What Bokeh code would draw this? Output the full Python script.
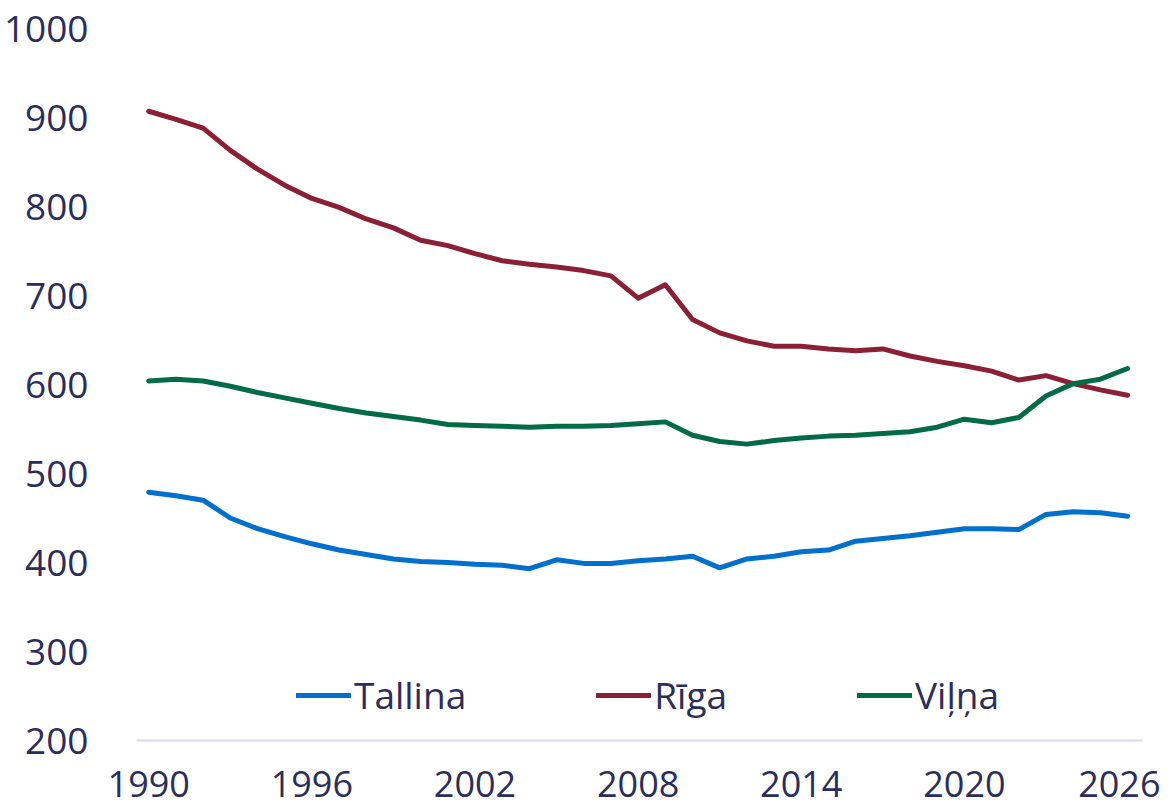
from bokeh.plotting import figure
from bokeh.models import ColumnDataSource, Legend, LegendItem, FixedTicker, Range1d
from bokeh.embed import file_html
from bokeh.resources import INLINE

years = list(range(1990, 2027))
tallina = [479, 475, 470, 450, 438, 429, 421, 414, 409, 404, 401, 400, 398, 397, 393, 403, 399, 399,
           402, 404, 407, 394, 404, 407, 412, 414, 424, 427, 430, 434, 438, 438, 437, 454, 457, 456, 452]
riga = [907, 898, 888, 863, 842, 824, 809, 799, 786, 776, 762, 756, 747, 739, 735, 732, 728, 722,
        697, 712, 673, 658, 649, 643, 643, 640, 638, 640, 632, 626, 621, 615, 605, 610, 601, 594, 588]
vilna = [604, 606, 604, 598, 591, 585, 579, 573, 568, 564, 560, 555, 554, 553, 552, 553, 553, 554,
         556, 558, 543, 536, 533, 537, 540, 542, 543, 545, 547, 552, 561, 557, 563, 587, 601, 606, 618]
series_names = ["Tallina", "Rīga", "Viļņa"]
colors = ["#0070CC", "#8B2035", "#006B45"]
x_ticks = [1990, 1996, 2002, 2008, 2014, 2020, 2026]
y_ticks = [200, 300, 400, 500, 600, 700, 800, 900, 1000]

TEXT = "#2B2D5C"
FONT = "Open Sans"

p = figure(width=1160, height=811, output_backend="svg", toolbar_location=None,
           x_range=Range1d(1989.55, 2026.55), y_range=Range1d(200, 1000),
           min_border_left=130, min_border_right=18, min_border_top=28, min_border_bottom=71)
p.outline_line_color = None
p.grid.grid_line_color = None

src = ColumnDataSource(dict(year=years, t=tallina, r=riga, v=vilna))
renderers = []
for col, c in zip(["t", "r", "v"], colors):
    renderers.append(p.line("year", col, source=src, line_color=c, line_width=5,
                            line_cap="round", line_join="round"))

p.xaxis.ticker = FixedTicker(ticks=x_ticks)
p.yaxis.ticker = FixedTicker(ticks=y_ticks)
for ax in (p.xaxis[0], p.yaxis[0]):
    ax.major_label_text_font = FONT
    ax.major_label_text_color = TEXT
    ax.major_tick_line_color = None
    ax.minor_tick_line_color = None
p.yaxis.major_label_text_font_size = "37px"
p.xaxis.major_label_text_font_size = "36px"
p.yaxis.axis_line_color = None
p.yaxis.major_label_standoff = 42
p.xaxis.axis_line_color = "#D9D9E8"
p.xaxis.axis_line_width = 2
p.xaxis.major_label_standoff = 24

legend = Legend(items=[LegendItem(label=n, renderers=[r]) for n, r in zip(series_names, renderers)],
                orientation="horizontal", location=(160, 20), padding=0, margin=0,
                spacing=130, glyph_width=55, label_standoff=3,
                label_text_font=FONT, label_text_font_size="37px", label_text_color=TEXT,
                border_line_color=None, background_fill_alpha=0)
p.add_layout(legend, "center")

open("out.html", "w").write(file_html(p, INLINE))
